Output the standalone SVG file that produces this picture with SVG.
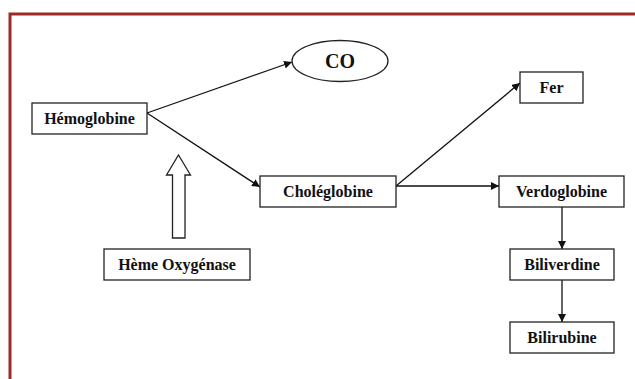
<svg xmlns="http://www.w3.org/2000/svg" width="635" height="379" viewBox="0 0 635 379">
<style>
.box{fill:#fff;stroke:#222;stroke-width:1.3}
.t{font-family:"Liberation Serif","Times New Roman",serif;font-weight:bold;font-size:16px;fill:#111;text-anchor:middle}
.c{fill:none;stroke:#111;stroke-width:1.3}
</style>
<defs>
<marker id="ah" viewBox="0 0 10 10" refX="10" refY="5" markerWidth="8" markerHeight="8" markerUnits="userSpaceOnUse" orient="auto">
<path d="M0,0 L10,5 L0,10 z" fill="#111"/>
</marker>
</defs>
<rect width="635" height="379" fill="#fff"/>
<path d="M10,380 L10,14 L640,14" fill="none" stroke="#9e2a24" stroke-width="3"/>
<g id="connectors">
<line class="c" x1="147" y1="113" x2="292" y2="62" marker-end="url(#ah)"/>
<line class="c" x1="147" y1="113" x2="260" y2="187" marker-end="url(#ah)"/>
<line class="c" x1="396" y1="186" x2="520" y2="83" marker-end="url(#ah)"/>
<line class="c" x1="396" y1="186" x2="499" y2="186" marker-end="url(#ah)"/>
<line class="c" x1="562" y1="207" x2="562" y2="249" marker-end="url(#ah)"/>
<line class="c" x1="562" y1="280" x2="562" y2="322" marker-end="url(#ah)"/>
<path id="hollow-arrow" d="M178.5,155 L190.5,175 L185,175 L185,238 L172.5,238 L172.5,175 L166.5,175 Z" fill="#fff" stroke="#222" stroke-width="1.3"/>
</g>
<g id="hemoglobine"><rect class="box" x="32" y="103" width="115" height="31"/><text class="t" x="89.5" y="124">Hémoglobine</text></g>
<g id="co"><ellipse cx="340" cy="61" rx="48" ry="20.5" fill="#fff" stroke="#222" stroke-width="1.3"/><text class="t" x="340" y="68" style="font-size:20px">CO</text></g>
<g id="choleglobine"><rect class="box" x="260" y="176" width="136" height="31"/><text class="t" x="328" y="197">Choléglobine</text></g>
<g id="fer"><rect class="box" x="520" y="72" width="63" height="31"/><text class="t" x="551.5" y="93">Fer</text></g>
<g id="verdoglobine"><rect class="box" x="499" y="176" width="125" height="31"/><text class="t" x="561.5" y="197">Verdoglobine</text></g>
<g id="biliverdine"><rect class="box" x="510" y="249" width="104" height="31"/><text class="t" x="562" y="270">Biliverdine</text></g>
<g id="bilirubine"><rect class="box" x="510" y="322" width="104" height="31"/><text class="t" x="562" y="343">Bilirubine</text></g>
<g id="heme-oxygenase"><rect class="box" x="104" y="249" width="146" height="31"/><text class="t" x="177" y="270">Hème Oxygénase</text></g>
</svg>
